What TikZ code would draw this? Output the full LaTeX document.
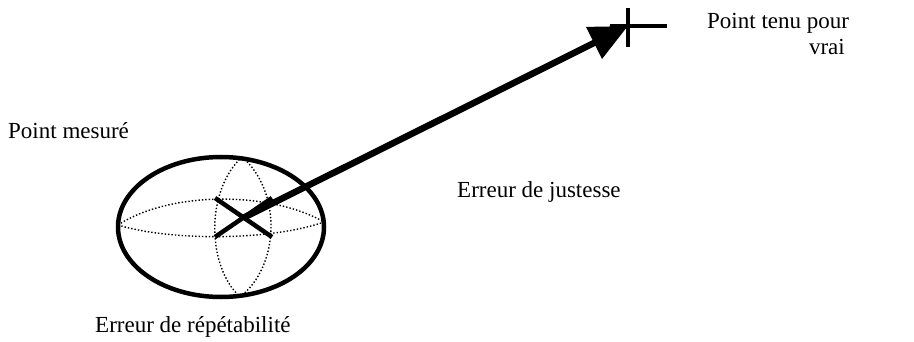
\documentclass[tikz,border=0pt]{standalone}
\usepackage{fontspec}
\setmainfont{Liberation Serif}
\usetikzlibrary{arrows.meta}
\begin{document}
\begin{tikzpicture}[x=1pt,y=-1pt,
  lbl/.style={inner sep=0pt,font=\fontsize{23}{26}\selectfont},
  thickline/.style={line width=4.5pt},
  dotline/.style={dotted,line width=1.4pt},
  bigarrow/.style={line width=6.5pt,-{Triangle[length=38pt,width=34pt]}}]
\useasboundingbox (0,0) rectangle (914,342);
% ellipse and inner lenses
\draw[thickline] (221,227) ellipse [x radius=103, y radius=70];
\draw[dotline] (242,157) .. controls (206,190) and (206,265) .. (240,297);
\draw[dotline] (242,157) .. controls (281,190) and (281,265) .. (240,297);
\draw[dotline] (118,225) .. controls (170,191) and (270,191) .. (324,222);
\draw[dotline] (118,225) .. controls (170,241) and (270,241) .. (324,222);
% measured point cross
\coordinate (m) at (243,218);
\draw[line width=4.5pt] (215,198) -- (272,237);
\draw[line width=4.5pt] (215,237) -- (272,198);
% true point
\coordinate (v) at (628,26);
\draw[thickline] (628,8) -- (628,47);
\draw[thickline] (610,26) -- (667,26);
% arrow
\draw[bigarrow] (m) -- (v);
% labels
\node[lbl,anchor=base west] (tv1) at (707,29) {Point tenu pour};
\node[lbl,anchor=base east] (tv2) at (845,55) {vrai};
\node[lbl,anchor=base west] (pm) at (8,139) {Point mesuré};
\node[lbl,anchor=base west] (ej) at (457,198) {Erreur de justesse};
\node[lbl,anchor=base west] (er) at (95,332) {Erreur de répétabilité};
\end{tikzpicture}
\end{document}
